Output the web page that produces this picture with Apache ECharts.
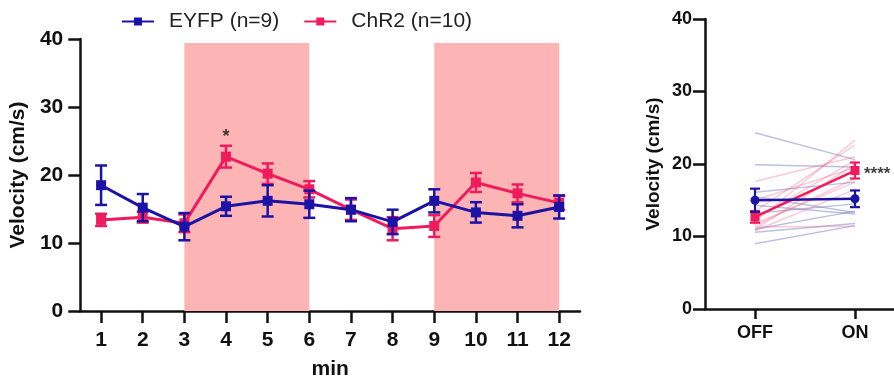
<!DOCTYPE html>
<html>
<head>
<meta charset="utf-8">
<script src="https://cdn.jsdelivr.net/npm/echarts@6/dist/echarts.min.js"></script>
<style>
html,body{margin:0;padding:0;background:#fff;}
#chart{width:894px;height:387px;}
</style>
</head>
<body>
<div id="chart"></div>
<script>
// ---------- data ----------
const minutes = [1,2,3,4,5,6,7,8,9,10,11,12];
const eyfpMean = [18.5, 15.2, 12.4, 15.4, 16.2, 15.7, 14.9, 13.1, 16.2, 14.5, 14.0, 15.3];
const eyfpSem  = [2.9, 2.0, 2.0, 1.4, 2.3, 2.0, 1.7, 1.8, 1.7, 1.5, 1.7, 1.7];
const chr2Mean = [13.4, 13.8, 12.9, 22.7, 20.2, 17.9, 14.9, 12.1, 12.5, 18.9, 17.3, 15.9];
const chr2Sem  = [0.9, 0.8, 1.3, 1.6, 1.5, 1.2, 1.5, 1.7, 1.6, 1.4, 1.3, 1.0];
const stimWindows = [[3, 6], [9, 12]];
const stimTop = 39.4;
const starLeft = [4, 25.6];

const phaseLabels = ['OFF', 'ON'];
const eyfpOff = [24.3, 19.9, 16.1, 15.5, 14.3, 13.2, 11.0, 10.6, 9.0];
const eyfpOn  = [20.6, 19.6, 17.5, 13.3, 13.1, 14.5, 13.5, 11.8, 11.5];
const chr2Off = [17.6, 15.0, 13.5, 12.5, 12.0, 11.8, 11.5, 11.0, 10.8, 11.3];
const chr2On  = [21.0, 19.5, 22.6, 20.5, 23.3, 17.5, 18.0, 20.0, 16.5, 11.4];
const eyfpPhaseMean = [15.0, 15.2];
const eyfpPhaseSem  = [1.6, 1.15];
const chr2PhaseMean = [12.7, 19.1];
const chr2PhaseSem  = [0.8, 1.1];

// ---------- style ----------
const BLUE = '#1c12a6';
const RED = '#ef1b5c';
const SHADE = '#fcb4b4';
const INK = '#111';
const FONT = 'Liberation Sans, Arial, Helvetica, sans-serif';

function errBars(color, capHalf, width) {
  return function (params, api) {
    const x = api.value(0), y = api.value(1), e = api.value(2);
    const t = api.coord([x, y + e]);
    const b = api.coord([x, y - e]);
    const st = {stroke: color, lineWidth: width};
    return {type: 'group', children: [
      {type: 'line', shape: {x1: t[0], y1: t[1], x2: b[0], y2: b[1]}, style: st},
      {type: 'line', shape: {x1: t[0] - capHalf, y1: t[1], x2: t[0] + capHalf, y2: t[1]}, style: st},
      {type: 'line', shape: {x1: b[0] - capHalf, y1: b[1], x2: b[0] + capHalf, y2: b[1]}, style: st}
    ]};
  };
}

const axisLine = {show: true, onZero: false, lineStyle: {color: INK, width: 2.5}};

const series = [];

// shaded stimulation windows
series.push({
  type: 'scatter', xAxisIndex: 0, yAxisIndex: 0, data: [], silent: true, z: 0,
  markArea: {
    silent: true,
    itemStyle: {color: SHADE, opacity: 1},
    data: stimWindows.map(w => [{coord: [w[0], 0]}, {coord: [w[1], stimTop]}])
  }
});

// left chart: ChR2 (drawn below EYFP)
series.push({
  name: 'ChR2 (n=10)', type: 'line', xAxisIndex: 0, yAxisIndex: 0, z: 3,
  data: minutes.map((m, i) => [m, chr2Mean[i]]),
  symbol: 'rect', symbolSize: 10, showAllSymbol: true,
  lineStyle: {color: RED, width: 3}, itemStyle: {color: RED}
});
series.push({
  type: 'custom', xAxisIndex: 0, yAxisIndex: 0, z: 3,
  data: minutes.map((m, i) => [m, chr2Mean[i], chr2Sem[i]]),
  renderItem: errBars(RED, 6, 2.5)
});
series.push({
  name: 'EYFP (n=9)', type: 'line', xAxisIndex: 0, yAxisIndex: 0, z: 5,
  data: minutes.map((m, i) => [m, eyfpMean[i]]),
  symbol: 'rect', symbolSize: 10, showAllSymbol: true,
  lineStyle: {color: BLUE, width: 3}, itemStyle: {color: BLUE}
});
series.push({
  type: 'custom', xAxisIndex: 0, yAxisIndex: 0, z: 5,
  data: minutes.map((m, i) => [m, eyfpMean[i], eyfpSem[i]]),
  renderItem: errBars(BLUE, 6, 2.5)
});
series.push({
  type: 'scatter', xAxisIndex: 0, yAxisIndex: 0, z: 6, silent: true,
  data: [starLeft], symbolSize: 0,
  label: {show: true, position: 'inside', formatter: '*', fontSize: 18, fontWeight: 'bold', color: INK, fontFamily: FONT}
});

// right chart: individual subjects
eyfpOff.forEach((v, i) => series.push({
  type: 'line', xAxisIndex: 1, yAxisIndex: 1, z: 2, silent: true, symbol: 'none',
  data: [[0, v], [1, eyfpOn[i]]],
  lineStyle: {color: 'rgba(80,90,170,0.38)', width: 1.5}
}));
chr2Off.forEach((v, i) => series.push({
  type: 'line', xAxisIndex: 1, yAxisIndex: 1, z: 2, silent: true, symbol: 'none',
  data: [[0, v], [1, chr2On[i]]],
  lineStyle: {color: 'rgba(240,90,130,0.32)', width: 1.5}
}));
// right chart means
series.push({
  type: 'line', xAxisIndex: 1, yAxisIndex: 1, z: 4,
  data: [0, 1].map(k => [k, chr2PhaseMean[k]]),
  symbol: 'rect', symbolSize: 9, lineStyle: {color: RED, width: 2.5}, itemStyle: {color: RED}
});
series.push({
  type: 'custom', xAxisIndex: 1, yAxisIndex: 1, z: 4,
  data: [0, 1].map(k => [k, chr2PhaseMean[k], chr2PhaseSem[k]]),
  renderItem: errBars(RED, 5, 2.2)
});
series.push({
  type: 'line', xAxisIndex: 1, yAxisIndex: 1, z: 5,
  data: [0, 1].map(k => [k, eyfpPhaseMean[k]]),
  symbol: 'circle', symbolSize: 9, lineStyle: {color: BLUE, width: 2.5}, itemStyle: {color: BLUE}
});
series.push({
  type: 'custom', xAxisIndex: 1, yAxisIndex: 1, z: 5,
  data: [0, 1].map(k => [k, eyfpPhaseMean[k], eyfpPhaseSem[k]]),
  renderItem: errBars(BLUE, 5, 2.2)
});
series.push({
  type: 'scatter', xAxisIndex: 1, yAxisIndex: 1, z: 6, silent: true,
  data: [[1, chr2PhaseMean[1]]], symbolSize: 0,
  label: {show: true, position: 'right', distance: 9, offset: [0, 4], formatter: '****', fontSize: 17, fontWeight: 'bold', color: INK, fontFamily: FONT}
});

const option = {
  animation: false,
  backgroundColor: '#fff',
  textStyle: {fontFamily: FONT},
  legend: {
    data: ['EYFP (n=9)', 'ChR2 (n=10)'],
    left: 116, top: 6,
    itemWidth: 32, itemHeight: 10, itemGap: 24,
    textStyle: {fontSize: 21, color: '#222', fontFamily: FONT, padding: [0, 0, 0, 10]}
  },
  grid: [
    {left: 80, right: 314, top: 39, bottom: 76},
    {left: 705, right: 0, top: 19, bottom: 78}
  ],
  xAxis: [
    {
      type: 'value', gridIndex: 0, min: 0.5, max: 12.5,
      axisLine: axisLine,
      axisTick: {show: true, length: 12, lineStyle: {color: INK, width: 2.5}, customValues: minutes},
      axisLabel: {fontSize: 21, fontWeight: 'bold', color: INK, margin: 19, customValues: minutes, fontFamily: FONT},
      splitLine: {show: false},
      name: 'min', nameLocation: 'middle', nameGap: 48,
      nameTextStyle: {fontSize: 21, fontWeight: 'bold', color: INK, fontFamily: FONT}
    },
    {
      type: 'value', gridIndex: 1, min: -0.5, max: 1.39,
      axisLine: axisLine,
      axisTick: {show: true, length: 10, lineStyle: {color: INK, width: 2.5}, customValues: [0, 1]},
      axisLabel: {fontSize: 18, fontWeight: 'bold', color: INK, margin: 15, customValues: [0, 1],
        formatter: v => phaseLabels[Math.round(v)], fontFamily: FONT},
      splitLine: {show: false}
    }
  ],
  yAxis: [
    {
      type: 'value', gridIndex: 0, min: 0, max: 40, interval: 10,
      axisLine: axisLine,
      axisTick: {show: true, length: 12, lineStyle: {color: INK, width: 2.5}},
      axisLabel: {fontSize: 21, fontWeight: 'bold', color: INK, margin: 17, fontFamily: FONT},
      splitLine: {show: false},
      name: 'Velocity (cm/s)', nameLocation: 'middle', nameGap: 40,
      nameTextStyle: {fontSize: 21, fontWeight: 'bold', color: INK, fontFamily: FONT}
    },
    {
      type: 'value', gridIndex: 1, min: 0, max: 40, interval: 10,
      axisLine: axisLine,
      axisTick: {show: true, length: 12, lineStyle: {color: INK, width: 2.5}},
      axisLabel: {fontSize: 18, fontWeight: 'bold', color: INK, margin: 13, fontFamily: FONT},
      splitLine: {show: false},
      name: 'Velocity (cm/s)', nameLocation: 'middle', nameGap: 42,
      nameTextStyle: {fontSize: 19, fontWeight: 'bold', color: INK, fontFamily: FONT}
    }
  ],
  series: series
};

const chart = echarts.init(document.getElementById('chart'), null, {renderer: 'canvas'});
chart.setOption(option);
</script>
</body>
</html>
